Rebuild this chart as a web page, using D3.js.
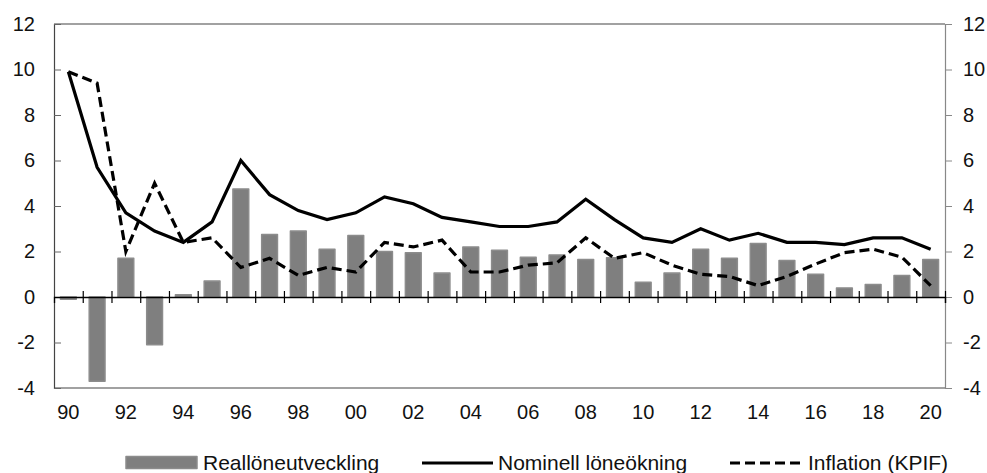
<!DOCTYPE html>
<html>
<head>
<meta charset="utf-8">
<script src="https://cdn.jsdelivr.net/npm/d3@7"></script>
<style>
  html, body { margin: 0; padding: 0; background: #fff; }
  svg { display: block; font-family: "Liberation Sans", Arial, sans-serif; }
</style>
</head>
<body>
<svg id="chart" width="987" height="473"></svg>
<script>
const years = d3.range(1990, 2021);
const xTickLabels = ["90","92","94","96","98","00","02","04","06","08","10","12","14","16","18","20"];
const yTicks = [-4, -2, 0, 2, 4, 6, 8, 10, 12];
const yTickLabels = ["-4", "-2", "0", "2", "4", "6", "8", "10", "12"];
const realWage = [-0.1,-3.7,1.7,-2.1,0.1,0.7,4.75,2.75,2.9,2.1,2.7,2.0,1.95,1.05,2.2,2.05,1.75,1.85,1.65,1.72,0.65,1.05,2.1,1.7,2.35,1.6,1.0,0.4,0.55,0.95,1.65];
const nominalWage = [9.9,5.7,3.7,2.9,2.4,3.3,6.0,4.5,3.8,3.4,3.7,4.4,4.1,3.5,3.3,3.1,3.1,3.3,4.3,3.4,2.6,2.4,3.0,2.5,2.8,2.4,2.4,2.3,2.6,2.6,2.1];
const inflation = [9.9,9.4,2.0,5.0,2.4,2.6,1.3,1.7,0.95,1.3,1.1,2.4,2.2,2.5,1.1,1.1,1.4,1.5,2.6,1.7,1.95,1.4,1.0,0.9,0.5,0.9,1.45,1.95,2.1,1.75,0.5];
const legendLabels = ["Reallöneutveckling", "Nominell löneökning", "Inflation (KPIF)"];

const svg = d3.select("#chart");
const L = 54, R = 945, T = 24, B = 388;

const x = d3.scaleBand().domain(years).range([L, R]).padding(0);
const y = d3.scaleLinear().domain([-4, 12]).range([B, T]);
const barW = x.bandwidth() * 0.55;
const yFmt = d => yTickLabels[yTicks.indexOf(d)];

// frame: top and bottom lines
svg.append("line").attr("x1", L).attr("x2", R).attr("y1", T).attr("y2", T)
  .attr("stroke", "#444").attr("stroke-width", 1.2);
svg.append("line").attr("x1", L).attr("x2", R).attr("y1", B).attr("y2", B)
  .attr("stroke", "#444").attr("stroke-width", 1.2);

// left axis (ticks inward)
const leftAx = svg.append("g").attr("transform", `translate(${L},0)`)
  .call(d3.axisLeft(y).tickValues(yTicks).tickSize(-7).tickPadding(19).tickFormat(yFmt));
leftAx.select(".domain").attr("stroke", "#444").attr("stroke-width", 1.2);
leftAx.selectAll(".tick line").attr("stroke", "#666");
leftAx.selectAll(".tick text").attr("font-size", 20).attr("fill", "#111")
  .attr("font-family", "Liberation Sans, Arial, sans-serif");

// right axis (ticks outward)
const rightAx = svg.append("g").attr("transform", `translate(${R},0)`)
  .call(d3.axisRight(y).tickValues(yTicks).tickSize(7).tickPadding(11).tickFormat(yFmt));
rightAx.select(".domain").attr("stroke", "#888").attr("stroke-width", 1.2);
rightAx.selectAll(".tick line").attr("stroke", "#888");
rightAx.selectAll(".tick text").attr("font-size", 20).attr("fill", "#111")
  .attr("font-family", "Liberation Sans, Arial, sans-serif");

// bars
svg.append("g").selectAll("rect").data(years).join("rect")
  .attr("x", d => x(d) + (x.bandwidth() - barW) / 2)
  .attr("width", barW)
  .attr("y", (d, i) => y(Math.max(0, realWage[i])))
  .attr("height", (d, i) => Math.abs(y(realWage[i]) - y(0)))
  .attr("fill", "#7f7f7f")
  .attr("stroke", "#8c8c8c")
  .attr("stroke-width", 1.5)
  .attr("stroke-linejoin", "round");

// zero axis with category boundary ticks crossing it
const boundary = d3.scaleLinear().domain([0, years.length]).range([L, R]);
const zeroAx = svg.append("g").attr("transform", `translate(0,${y(0)})`)
  .call(d3.axisBottom(boundary).tickValues(d3.range(1, years.length + 1)).tickSize(6).tickFormat(""));
zeroAx.select(".domain").attr("stroke", "#000").attr("stroke-width", 1.3);
zeroAx.selectAll(".tick line").attr("y1", -6).attr("y2", 6).attr("stroke", "#000").attr("stroke-width", 1.2);

// x labels
const labelYears = years.filter(d => d % 2 === 0);
const xAx = svg.append("g").attr("transform", `translate(0,${B})`)
  .call(d3.axisBottom(x).tickValues(labelYears).tickSize(0).tickPadding(17)
    .tickFormat((d, i) => xTickLabels[i]));
xAx.select(".domain").remove();
xAx.selectAll(".tick text").attr("font-size", 20).attr("fill", "#111")
  .attr("font-family", "Liberation Sans, Arial, sans-serif");

// lines
const cx = d => x(d) + x.bandwidth() / 2;
const lineGen = vals => d3.line().x(d => cx(d)).y((d, i) => y(vals[i]));
svg.append("path").datum(years).attr("d", lineGen(inflation))
  .attr("fill", "none").attr("stroke", "#000").attr("stroke-width", 3.2)
  .attr("stroke-dasharray", "10,5").attr("stroke-linejoin", "miter");
svg.append("path").datum(years).attr("d", lineGen(nominalWage))
  .attr("fill", "none").attr("stroke", "#000").attr("stroke-width", 3.2)
  .attr("stroke-linejoin", "miter");

// legend
const lg = svg.append("g").attr("font-size", 21).attr("fill", "#111");
lg.append("rect").attr("x", 126).attr("y", 456.5).attr("width", 71).attr("height", 12)
  .attr("fill", "#7f7f7f").attr("stroke", "#8c8c8c").attr("stroke-width", 1.5).attr("stroke-linejoin", "round");
lg.append("text").attr("x", 203).attr("y", 470).text(legendLabels[0]);
lg.append("line").attr("x1", 422).attr("x2", 493).attr("y1", 463).attr("y2", 463)
  .attr("stroke", "#000").attr("stroke-width", 3.2);
lg.append("text").attr("x", 498).attr("y", 470).text(legendLabels[1]);
lg.append("line").attr("x1", 730).attr("x2", 802).attr("y1", 463).attr("y2", 463)
  .attr("stroke", "#000").attr("stroke-width", 3.2).attr("stroke-dasharray", "10,5");
lg.append("text").attr("x", 808).attr("y", 470).text(legendLabels[2]);
</script>
</body>
</html>
